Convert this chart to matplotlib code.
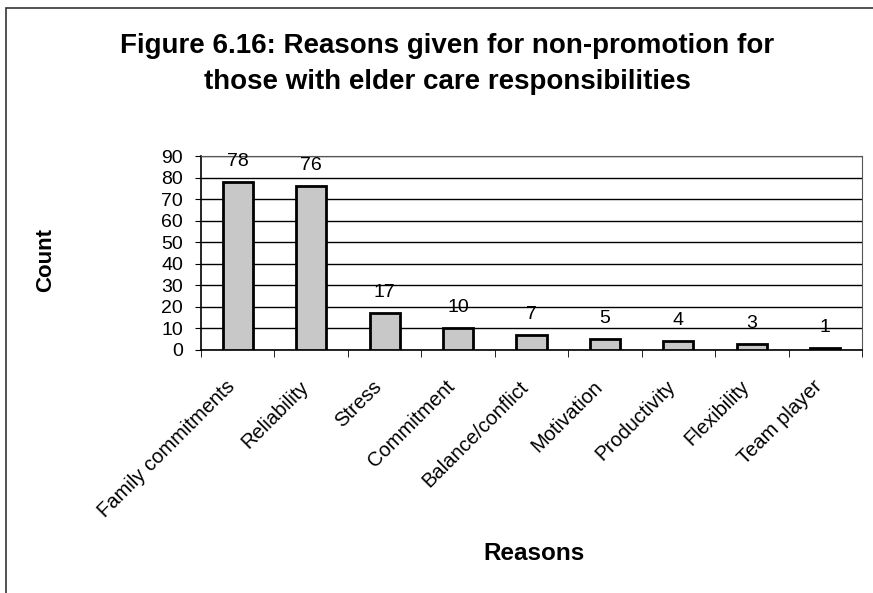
import numpy as np
import matplotlib.pyplot as plt
import matplotlib.transforms as mtransforms
from matplotlib.patches import Rectangle

reasons = ["Family commitments", "Reliability", "Stress", "Commitment",
           "Balance/conflict", "Motivation", "Productivity", "Flexibility",
           "Team player"]
counts = [78, 76, 17, 10, 7, 5, 4, 3, 1]
yticks = [0, 10, 20, 30, 40, 50, 60, 70, 80, 90]

plt.rcParams['font.family'] = ['Liberation Sans', 'DejaVu Sans']

fig = plt.figure(figsize=(8.73, 5.93), dpi=100)
# frame round the whole chart
fig.patches.append(Rectangle((6 / 873, -0.01), 1.0, 1.0 - 8 / 593 + 0.01,
                             transform=fig.transFigure, fill=False,
                             edgecolor='#333333', linewidth=1.2))

ax = fig.add_axes([201 / 873, 1 - 350 / 593, 661 / 873, 194 / 593])
x = np.arange(len(reasons))
ax.bar(x, counts, width=0.41, color='#c8c8c8', edgecolor='black',
       linewidth=2, zorder=3)
for xi, c in zip(x, counts):
    ax.annotate(str(c), (xi, c), xytext=(0, 11.5), textcoords='offset points',
                ha='center', va='baseline', fontsize=14)

ax.set_xlim(-0.5, len(reasons) - 0.5)
ax.set_ylim(0, 90)
ax.set_yticks(yticks)
ax.tick_params(axis='y', labelsize=14, length=4, pad=9)
ax.yaxis.grid(True, color='black', linewidth=1)
ax.set_axisbelow(True)

ax.set_xticks(x)
ax.set_xticklabels(reasons, rotation=45, ha='right', va='top',
                   rotation_mode='anchor', fontsize=14.5)
ax.tick_params(axis='x', length=0, pad=19.5)
ax.set_xticks(np.arange(len(reasons) + 1) - 0.5, minor=True)
ax.tick_params(axis='x', which='minor', length=5, direction='out')
offset = mtransforms.ScaledTranslation(-9 / 72, 0, fig.dpi_scale_trans)
for lbl in ax.get_xticklabels():
    lbl.set_transform(lbl.get_transform() + offset)

for s in ['top', 'right']:
    ax.spines[s].set_color('#555555')
for s in ['left', 'bottom']:
    ax.spines[s].set_linewidth(1.2)

fig.text(447 / 873, 1 - 46 / 593, "Figure 6.16: Reasons given for non-promotion for",
         ha='center', va='center', fontsize=20, fontweight='bold')
fig.text(447 / 873, 1 - 82 / 593, "those with elder care responsibilities",
         ha='center', va='center', fontsize=20, fontweight='bold')
fig.text(46 / 873, 1 - 260 / 593, "Count", rotation=90, ha='center',
         va='center', fontsize=16, fontweight='bold')
fig.text(534 / 873, 1 - 553 / 593, "Reasons", ha='center', va='center',
         fontsize=17.5, fontweight='bold')

fig.savefig("out.png", dpi=100)
